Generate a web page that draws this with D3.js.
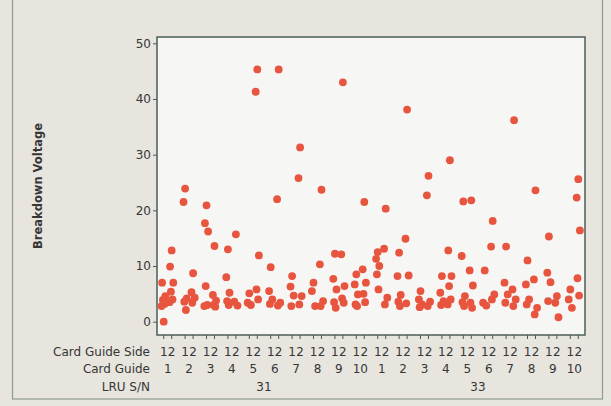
<!DOCTYPE html>
<html>
<head>
<meta charset="utf-8">
<script src="https://cdn.jsdelivr.net/npm/d3@7"></script>
<style>
  body { margin: 0; background: #e7e5de; }
  text { font-family: "DejaVu Sans", sans-serif; fill: #363636; }
</style>
</head>
<body>
<div class="chart"></div>
<script>
var svgWidth = 611;
var svgHeight = 406;

// categories
var lrus = ["31", "33"];
var cardGuides = ["1", "2", "3", "4", "5", "6", "7", "8", "9", "10"];
var sides = ["1", "2"];
var yTicks = [0, 10, 20, 30, 40, 50];

// breakdown voltage per LRU / card guide / side
var lru31 = [
  [[0, 7.0, 4.6, 3.9, 3.2, 2.8], [12.8, 9.9, 7.0, 5.4, 4.0, 3.5]],
  [[23.9, 21.5, 4.2, 3.6, 2.1], [8.7, 5.3, 4.3, 3.4]],
  [[20.9, 17.7, 16.2, 6.4, 3.0, 2.8], [13.6, 4.8, 3.8, 3.0, 2.7]],
  [[13.0, 8.0, 5.2, 3.7, 3.0], [15.7, 3.6, 2.9]],
  [[5.1, 3.4, 3.0], [45.3, 41.3, 11.9, 5.8, 4.0]],
  [[9.8, 5.5, 4.0, 3.2], [45.3, 22.0, 3.4, 2.9]],
  [[8.2, 6.3, 4.7, 2.8], [31.3, 25.8, 4.6, 3.1]],
  [[7.0, 5.5, 2.8], [23.7, 10.3, 3.7, 2.8]],
  [[12.2, 7.7, 5.8, 3.5, 2.5], [43.0, 12.1, 6.4, 4.2, 3.4]],
  [[8.5, 6.7, 4.9, 3.1, 2.8], [21.5, 9.4, 7.0, 5.0, 3.5]]
];
var lru33 = [
  [[12.5, 11.3, 10.0, 8.5, 5.8], [20.3, 13.1, 4.3, 3.1]],
  [[12.4, 8.2, 4.8, 3.6, 2.8], [38.1, 14.9, 8.3, 3.3]],
  [[5.5, 4.0, 3.1, 2.6], [26.2, 22.7, 3.6, 2.8]],
  [[8.2, 5.2, 3.7, 3.0], [29.0, 12.8, 8.2, 6.4, 4.0, 3.1]],
  [[21.6, 11.8, 4.6, 3.5, 2.8], [21.8, 9.2, 6.5, 3.4, 2.5]],
  [[9.2, 3.4, 2.9], [18.1, 13.5, 4.9, 4.0]],
  [[13.5, 7.0, 4.9, 3.4], [36.2, 5.8, 4.0, 2.8]],
  [[11.0, 6.7, 4.0, 3.1], [23.6, 7.6, 2.5, 1.3]],
  [[15.3, 8.8, 7.1, 3.7], [4.6, 3.4, 0.8]],
  [[5.8, 4.0, 2.5], [25.6, 22.3, 16.4, 7.8, 4.7]]
];

// flatten into rows
var data = [];
[lru31, lru33].forEach(function(lru, li) {
  lru.forEach(function(card, ci) {
    card.forEach(function(vals, si) {
      vals.forEach(function(v, k) {
        data.push({lru: lrus[li], card: cardGuides[ci], side: sides[si], v: v, k: k});
      });
    });
  });
});

var plot = {left: 157, right: 585, top: 37, bottom: 335};

var svg = d3.select(".chart")
  .append("svg")
  .attr("width", svgWidth)
  .attr("height", svgHeight);

// outer panel border
svg.append("rect")
  .attr("x", 12.5).attr("y", -2)
  .attr("width", 590).attr("height", 401)
  .attr("fill", "#e7e5de")
  .attr("stroke", "#8f9994")
  .attr("stroke-width", 1.2);

// scales
var cardKeys = [];
lrus.forEach(l => cardGuides.forEach(c => cardKeys.push(l + "-" + c)));

var xCard = d3.scaleBand()
  .domain(cardKeys)
  .range([plot.left, plot.right]);

var xSide = d3.scalePoint()
  .domain(sides)
  .range([0, xCard.bandwidth()])
  .padding(0.84);

var y = d3.scaleLinear()
  .domain([0, 50])
  .range([321.7, 43.3]);

function leafX(l, c, s) { return xCard(l + "-" + c) + xSide(s); }

// plot background + frame
svg.append("rect")
  .attr("x", plot.left).attr("y", plot.top)
  .attr("width", plot.right - plot.left)
  .attr("height", plot.bottom - plot.top)
  .attr("fill", "#f6f6f4")
  .attr("stroke", "#4c5c57")
  .attr("stroke-width", 1.5);

// y axis
var leftAxis = d3.axisLeft(y).tickValues(yTicks).tickSize(4).tickPadding(2);
var yg = svg.append("g")
  .attr("transform", `translate(${plot.left}, 0)`)
  .call(leftAxis);
yg.select(".domain").remove();
yg.selectAll("line").attr("stroke", "#4c5c57");
yg.selectAll("text")
  .style("font-family", "'DejaVu Sans', sans-serif")
  .style("font-size", "12px")
  .attr("fill", "#363636");

// y label
svg.append("text")
  .attr("transform", "translate(42, 186) rotate(-90)")
  .attr("text-anchor", "middle")
  .style("font-size", "11.5px")
  .style("font-weight", "bold")
  .text("Breakdown Voltage");

// bottom ticks and side labels
var leaves = [];
lrus.forEach(l => cardGuides.forEach(c => sides.forEach(s => leaves.push({l: l, c: c, s: s}))));

svg.selectAll(".xtick")
  .data(leaves)
  .enter()
  .append("line")
  .attr("class", "xtick")
  .attr("x1", d => leafX(d.l, d.c, d.s))
  .attr("x2", d => leafX(d.l, d.c, d.s))
  .attr("y1", plot.bottom)
  .attr("y2", plot.bottom + 4)
  .attr("stroke", "#4c5c57");

svg.selectAll(".sidelab")
  .data(leaves)
  .enter()
  .append("text")
  .attr("class", "sidelab")
  .attr("x", d => leafX(d.l, d.c, d.s))
  .attr("y", 356)
  .attr("text-anchor", "middle")
  .style("font-size", "12px")
  .text(d => d.s);

// card guide labels
var cards = [];
lrus.forEach(l => cardGuides.forEach(c => cards.push({l: l, c: c})));
svg.selectAll(".cardlab")
  .data(cards)
  .enter()
  .append("text")
  .attr("class", "cardlab")
  .attr("x", d => xCard(d.l + "-" + d.c) + xCard.bandwidth() / 2)
  .attr("y", 373)
  .attr("text-anchor", "middle")
  .style("font-size", "12px")
  .text(d => d.c);

// LRU labels
svg.selectAll(".lrulab")
  .data(lrus)
  .enter()
  .append("text")
  .attr("class", "lrulab")
  .attr("x", d => (xCard(d + "-1") + xCard(d + "-10") + xCard.bandwidth()) / 2)
  .attr("y", 391)
  .attr("text-anchor", "middle")
  .style("font-size", "12px")
  .text(d => d);

// row titles
var rowTitles = ["Card Guide Side", "Card Guide", "LRU S/N"];
var rowY = [356, 373, 391];
svg.selectAll(".rowtitle")
  .data(rowTitles)
  .enter()
  .append("text")
  .attr("class", "rowtitle")
  .attr("x", 150)
  .attr("y", (d, i) => rowY[i])
  .attr("text-anchor", "end")
  .style("font-size", "12px")
  .text(d => d);

// small deterministic spread so points in one group don't sit on top of each other
var spread = [0, -1.6, 1.6, -0.8, 0.8, -2.2];

svg.append("g")
  .selectAll("circle")
  .data(data)
  .enter()
  .append("circle")
  .attr("cx", d => leafX(d.lru, d.card, d.side) + spread[d.k % spread.length])
  .attr("cy", d => y(d.v))
  .attr("r", 3.9)
  .attr("fill", "#e8553f");
</script>
</body>
</html>
